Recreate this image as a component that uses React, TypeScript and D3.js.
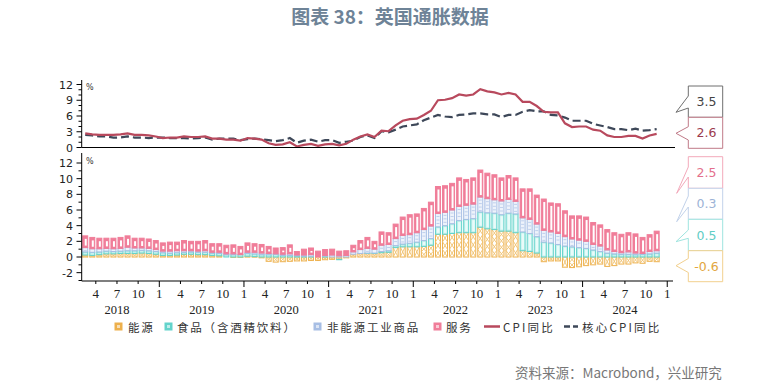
import React from "react";
import * as d3 from "d3";

// Monthly data, Feb 2018 .. Nov 2024 (82 months)
const firstYear = 2018;
const firstMonth = 2; // February
const years = [2018, 2019, 2020, 2021, 2022, 2023, 2024];

const cpi = [
  2.7, 2.5, 2.4, 2.4, 2.4, 2.5, 2.7, 2.4, 2.4, 2.3, 2.1,
  1.8, 1.9, 1.9, 2.1, 2.0, 2.0, 2.1, 1.7, 1.7, 1.5, 1.5, 1.3,
  1.8, 1.7, 1.5, 0.8, 0.5, 0.6, 1.0, 0.2, 0.5, 0.7, 0.3, 0.6,
  0.7, 0.4, 0.7, 1.5, 2.1, 2.5, 2.0, 3.2, 3.1, 4.2, 5.1, 5.4,
  5.5, 6.2, 7.0, 9.0, 9.1, 9.4, 10.1, 9.9, 10.1, 11.1, 10.7, 10.5,
  10.1, 10.4, 10.1, 8.7, 8.7, 7.9, 6.8, 6.7, 6.7, 4.6, 3.9, 4.0,
  4.0, 3.4, 3.2, 2.3, 2.0, 2.0, 2.2, 2.2, 1.7, 2.3, 2.6,
];

const coreCpi = [
  2.4, 2.3, 2.1, 2.1, 1.9, 1.9, 2.1, 1.9, 1.9, 1.8, 1.9,
  1.9, 1.8, 1.8, 1.8, 1.7, 1.8, 1.9, 1.5, 1.7, 1.7, 1.7, 1.4,
  1.6, 1.7, 1.6, 1.4, 1.2, 1.4, 1.8, 0.9, 1.3, 1.5, 1.1, 1.4,
  1.4, 0.9, 1.1, 1.3, 2.0, 2.3, 1.8, 3.1, 2.9, 3.4, 4.0, 4.2,
  4.4, 5.2, 5.7, 6.2, 5.9, 5.8, 6.2, 6.3, 6.5, 6.5, 6.3, 6.3,
  5.8, 6.2, 6.2, 6.8, 7.1, 6.9, 6.9, 6.2, 6.1, 5.7, 5.1, 5.1,
  5.1, 4.5, 4.2, 3.9, 3.5, 3.5, 3.3, 3.6, 3.2, 3.3, 3.5,
];

const energy = [
  0.25, 0.2, 0.3, 0.4, 0.4, 0.45, 0.45, 0.45, 0.5, 0.45, 0.35,
  0.2, 0.2, 0.25, 0.35, 0.35, 0.3, 0.3, 0.2, 0.15, 0.0, -0.05, -0.05,
  0.1, 0.05, -0.1, -0.55, -0.65, -0.6, -0.55, -0.5, -0.5, -0.45, -0.45, -0.35,
  -0.3, -0.3, -0.1, 0.35, 0.45, 0.45, 0.45, 0.55, 0.6, 1.2, 1.3, 1.3,
  1.3, 1.35, 1.5, 2.9, 2.9, 3.0, 3.1, 3.1, 3.1, 3.8, 3.6, 3.5,
  3.3, 3.3, 3.1, 0.8, 0.7, 0.5, -0.6, -0.5, -0.5, -1.3, -1.35, -1.25,
  -1.1, -1.0, -0.9, -1.2, -1.1, -0.9, -0.9, -0.75, -0.8, -0.55, -0.6,
];

const food = [
  0.4, 0.4, 0.35, 0.35, 0.3, 0.3, 0.35, 0.35, 0.35, 0.35, 0.35,
  0.35, 0.3, 0.3, 0.25, 0.3, 0.3, 0.3, 0.3, 0.3, 0.3, 0.3, 0.3,
  0.35, 0.35, 0.3, 0.3, 0.35, 0.2, 0.2, 0.15, 0.1, 0.1, 0.0, 0.1,
  0.0, -0.05, 0.0, 0.0, 0.0, 0.05, 0.05, 0.15, 0.2, 0.25, 0.35, 0.45,
  0.6, 0.75, 0.85, 0.95, 1.1, 1.25, 1.55, 1.7, 1.8, 1.95, 2.05, 2.1,
  2.1, 2.3, 2.4, 2.4, 2.3, 2.1, 1.9, 1.8, 1.6, 1.4, 1.3, 1.2,
  1.1, 0.9, 0.7, 0.5, 0.4, 0.35, 0.35, 0.3, 0.35, 0.4, 0.5,
];

const neig = [
  0.55, 0.45, 0.4, 0.35, 0.35, 0.35, 0.45, 0.35, 0.3, 0.3, 0.25,
  0.2, 0.25, 0.25, 0.2, 0.15, 0.15, 0.2, 0.1, 0.15, 0.1, 0.1, 0.0,
  0.15, 0.2, 0.2, 0.15, 0.05, 0.15, 0.2, 0.1, 0.15, 0.2, 0.0, 0.1,
  0.25, 0.15, 0.2, 0.3, 0.5, 0.6, 0.5, 0.8, 0.8, 0.9, 1.1, 1.1,
  1.2, 1.4, 1.6, 1.7, 1.7, 1.75, 1.8, 1.8, 1.85, 1.9, 1.8, 1.7,
  1.75, 1.75, 1.6, 1.8, 1.8, 1.6, 1.5, 1.4, 1.4, 1.2, 1.0, 0.95,
  0.9, 0.7, 0.7, 0.4, 0.3, 0.2, 0.3, 0.2, 0.1, 0.3, 0.3,
];

const services = [
  1.5, 1.45, 1.35, 1.3, 1.35, 1.4, 1.45, 1.25, 1.25, 1.2, 1.15,
  1.05, 1.15, 1.1, 1.3, 1.2, 1.25, 1.3, 1.1, 1.1, 1.1, 1.15, 1.05,
  1.2, 1.1, 1.1, 0.9, 0.75, 0.85, 1.15, 0.45, 0.75, 0.85, 0.75, 0.75,
  0.75, 0.6, 0.6, 0.85, 1.15, 1.4, 1.0, 1.7, 1.5, 1.85, 2.35, 2.55,
  2.4, 2.7, 3.05, 3.45, 3.4, 3.4, 3.65, 3.3, 3.35, 3.45, 3.25, 3.2,
  2.95, 3.05, 3.0, 3.7, 3.9, 3.7, 4.0, 3.7, 3.8, 3.3, 2.95, 3.1,
  3.1, 2.8, 2.7, 2.6, 2.4, 2.35, 2.45, 2.45, 2.05, 2.15, 2.5,
];

const seriesKeys = ["energy", "food", "neig", "services"];
const seriesNames = ["能源", "食品（含酒精饮料）", "非能源工业商品", "服务"];
const lineNames = ["CPI同比", "核心CPI同比"];
const titleText = "图表 38：英国通胀数据";
const sourceText = "资料来源：Macrobond，兴业研究";

const COL = {
  energy: { stroke: "#EDB04C", fill: "#FFFFFF", deco: "#F1C26F" },
  food: { stroke: "#63D3CB", fill: "#C4F0EC", deco: "#E9FBF9" },
  neig: { stroke: "#A7BEE4", fill: "#EEF3FB", deco: "#B3C7E8" },
  services: { stroke: "#F07D99", fill: "#F07D99", deco: "#FFFFFF" },
};
const CPI_COLOR = "#B8495D";
const CORE_COLOR = "#3E4859";

export default function App() {
  const n = cpi.length;
  const x = d3.scaleLinear().domain([0, 84.1]).range([81.7, 675]);
  const yT = d3.scaleLinear().domain([0, 12]).range([147.5, 84.5]);
  const yB = d3.scaleLinear().domain([-3, 12]).range([280.5, 163]);
  const bw = 5;

  const rows = d3.range(n).map((i) => ({
    i,
    energy: energy[i],
    food: food[i],
    neig: neig[i],
    services: services[i],
  }));
  const stacked = d3
    .stack<any>()
    .keys(seriesKeys)
    .offset(d3.stackOffsetDiverging)(rows);

  const line = d3
    .line<number>()
    .x((_, i) => x(i + 0.5))
    .y((v) => yT(v));

  const monthOf = (b: number) => ((b + firstMonth - 1) % 12) + 1;
  const boundaries = d3.range(0, 84).filter((b) => [1, 4, 7, 10].includes(monthOf(b)));
  const janIndex = (yr: number) => (yr - firstYear) * 12 - (firstMonth - 1);

  const segs: React.ReactNode[] = [];
  stacked.forEach((layer) => {
    const key = layer.key as keyof typeof COL;
    const c = COL[key];
    layer.forEach((d: any, i: number) => {
      const a = d[0], b = d[1];
      if (a === b) return;
      const top = yB(Math.max(a, b));
      const bot = yB(Math.min(a, b));
      const h = bot - top;
      const x0 = x(i + 0.5) - bw / 2;
      const k = `${key}-${i}`;
      segs.push(
        <rect key={k} x={x0} y={top} width={bw} height={h} fill={c.fill} stroke={c.stroke} strokeWidth={1} />
      );
      if (key === "energy") {
        const nc = Math.max(1, Math.round(h / 7));
        const ch = h / nc;
        let p = "";
        for (let j = 0; j < nc; j++) {
          const yy = top + j * ch;
          p += `M${x0},${yy}L${x0 + bw},${yy + ch}M${x0 + bw},${yy}L${x0},${yy + ch}`;
        }
        segs.push(<path key={k + "d"} d={p} stroke={c.deco} strokeWidth={0.9} fill="none" />);
      } else if (key === "neig") {
        let p = "";
        for (let yy = top + 3; yy < bot - 1; yy += 3.5) {
          p += `M${x0 + 1},${yy}L${x0 + bw - 1},${yy}`;
        }
        if (p) segs.push(<path key={k + "d"} d={p} stroke={c.deco} strokeWidth={0.8} fill="none" />);
      } else if (key === "food") {
        if (h > 3) segs.push(<rect key={k + "d"} x={x0 + 1.5} y={top + 1.5} width={bw - 2.5} height={h - 3} fill={c.deco} />);
      } else if (key === "services") {
        if (h > 6) segs.push(<rect key={k + "d"} x={x0 + 2} y={top + 3} width={bw - 3} height={h - 5} fill={c.deco} />);
      }
    });
  });

  // callouts (layout)
  const bx = 688.3, bxr = 722.7;
  const callouts = [
    { v: coreCpi[n - 1], y0: 86, y1: 117.3, a1: 96, a2: 108, tip: [676, 112.3], stroke: "#6F6F6F", text: "#444" },
    { v: cpi[n - 1], y0: 117.3, y1: 148.3, a1: 126.7, a2: 140, tip: [676, 133.3], stroke: "#C07A88", text: "#9B3A4E" },
    { v: services[n - 1], y0: 156.7, y1: 188.3, a1: 167, a2: 177, tip: [676.7, 193.3], stroke: "#F3A9BB", text: "#E36F8D" },
    { v: neig[n - 1], y0: 188.3, y1: 219.3, a1: 196, a2: 207, tip: [676.7, 221.7], stroke: "#C2D2EA", text: "#9DB3D6" },
    { v: food[n - 1], y0: 219.3, y1: 250.7, a1: 230, a2: 238.3, tip: [676, 241.7], stroke: "#9EE4DF", text: "#62CDC5" },
    { v: energy[n - 1], y0: 250.7, y1: 281.7, a1: 258.5, a2: 272.5, tip: [676, 265.7], stroke: "#F2D08E", text: "#E2A63E" },
  ];

  const yTicksTop = d3.range(0, 13);
  const yTicksBot = d3.range(-3, 13);

  const legendSquares = [
    { x: 114.5, key: "energy", tx: 128 },
    { x: 164.5, key: "food", tx: 177 },
    { x: 313.5, key: "neig", tx: 327 },
    { x: 433.5, key: "services", tx: 446 },
  ];

  return (
    <>
      <style>{`body{margin:0}`}</style>
      <svg width={780} height={391} style={{ display: "block", background: "#fff" }}>
        <text x={390} y={24} textAnchor="middle" fontFamily="'Noto Sans CJK SC'" fontWeight={700} fontSize={19} fill="#6E8397">
          {titleText}
        </text>

        {/* top panel axes */}
        <line x1={81.7} x2={81.7} y1={80} y2={147.5} stroke="#000" strokeWidth={1} />
        {yTicksTop.map((t) => (
          <line key={"tt" + t} x1={81.7} x2={t % 3 === 0 ? 76.5 : 78.5} y1={yT(t)} y2={yT(t)} stroke="#000" strokeWidth={1} />
        ))}
        {yTicksTop.filter((t) => t % 3 === 0).map((t) => (
          <text key={"tl" + t} x={73} y={yT(t) + 4} textAnchor="end" fontFamily="'DejaVu Sans'" fontSize={11} fill="#222">
            {t}
          </text>
        ))}
        <text x={86} y={90} fontFamily="'DejaVu Sans'" fontSize={8} fill="#333">%</text>

        <path d={line(coreCpi) || ""} fill="none" stroke={CORE_COLOR} strokeWidth={2.2} strokeDasharray="8,4" />
        <path d={line(cpi) || ""} fill="none" stroke={CPI_COLOR} strokeWidth={2.2} />
        <line x1={81.7} x2={675} y1={147.5} y2={147.5} stroke="#000" strokeWidth={1.2} />

        {/* bottom panel */}
        {segs}
        <line x1={81.7} x2={81.7} y1={153} y2={281} stroke="#000" strokeWidth={1} />
        {yTicksBot.map((t) => (
          <line key={"bt" + t} x1={81.7} x2={t % 2 === 0 ? 76.5 : 78.5} y1={yB(t)} y2={yB(t)} stroke="#000" strokeWidth={1} />
        ))}
        {yTicksBot.filter((t) => t % 2 === 0).map((t) => (
          <text key={"bl" + t} x={73} y={yB(t) + 4} textAnchor="end" fontFamily="'DejaVu Sans'" fontSize={11} fill="#222">
            {t}
          </text>
        ))}
        <text x={86} y={164} fontFamily="'DejaVu Sans'" fontSize={8} fill="#333">%</text>
        <line x1={81.7} x2={673} y1={281} y2={281} stroke="#000" strokeWidth={1.2} />
        {boundaries.map((b) => {
          const m = monthOf(b);
          return (
            <g key={"xb" + b}>
              <line x1={x(b)} x2={x(b)} y1={281} y2={m === 1 ? 287 : 284} stroke="#000" strokeWidth={1} />
              <text x={x(b)} y={297.5} textAnchor="middle" fontFamily="'Liberation Serif'" fontSize={13} fill="#222">
                {m}
              </text>
            </g>
          );
        })}
        {years.map((yr) => (
          <text key={"y" + yr} x={x(janIndex(yr) + 6)} y={314} textAnchor="middle" fontFamily="'Liberation Serif'" fontSize={12.5} fill="#222">
            {yr}
          </text>
        ))}

        {/* legend */}
        {legendSquares.map((l, j) => {
          const c = COL[l.key as keyof typeof COL];
          return (
            <g key={"lg" + j}>
              <rect x={l.x} y={322.5} width={8} height={8} fill={c.stroke} />
              <rect x={l.x + 2.5} y={325} width={3} height={3} fill="#fff" opacity={0.6} />
              <text x={l.tx} y={331.5} fontFamily="'Noto Sans CJK SC'" fontSize={11.5} letterSpacing={1.8} fill="#333">
                {seriesNames[j]}
              </text>
            </g>
          );
        })}
        <line x1={484} x2={500} y1={326.5} y2={326.5} stroke={CPI_COLOR} strokeWidth={2.5} />
        <text x={503} y={331.5} fontFamily="'Noto Sans CJK SC'" fontSize={11.5} letterSpacing={2.2} fill="#333">{lineNames[0]}</text>
        <line x1={564} x2={578} y1={326.5} y2={326.5} stroke={CORE_COLOR} strokeWidth={2.5} strokeDasharray="6,3" />
        <text x={582} y={331.5} fontFamily="'Noto Sans CJK SC'" fontSize={11.5} letterSpacing={2.2} fill="#333">{lineNames[1]}</text>

        {/* callouts */}
        {callouts.map((c, j) => (
          <g key={"co" + j}>
            <path
              d={`M${bx},${c.y0}L${bxr},${c.y0}L${bxr},${c.y1}L${bx},${c.y1}L${bx},${c.a2}L${c.tip[0]},${c.tip[1]}L${bx},${c.a1}Z`}
              fill="#fff"
              stroke={c.stroke}
              strokeWidth={1}
            />
            <text x={(bx + bxr) / 2 + 1} y={(c.y0 + c.y1) / 2 + 4.5} textAnchor="middle" fontFamily="'DejaVu Sans'" fontSize={12.5} fill={c.text}>
              {c.v.toFixed(1)}
            </text>
          </g>
        ))}

        <text x={515} y={378} fontFamily="'Noto Sans CJK SC'" fontSize={13.5} fill="#777">{sourceText}</text>
      </svg>
    </>
  );
}
